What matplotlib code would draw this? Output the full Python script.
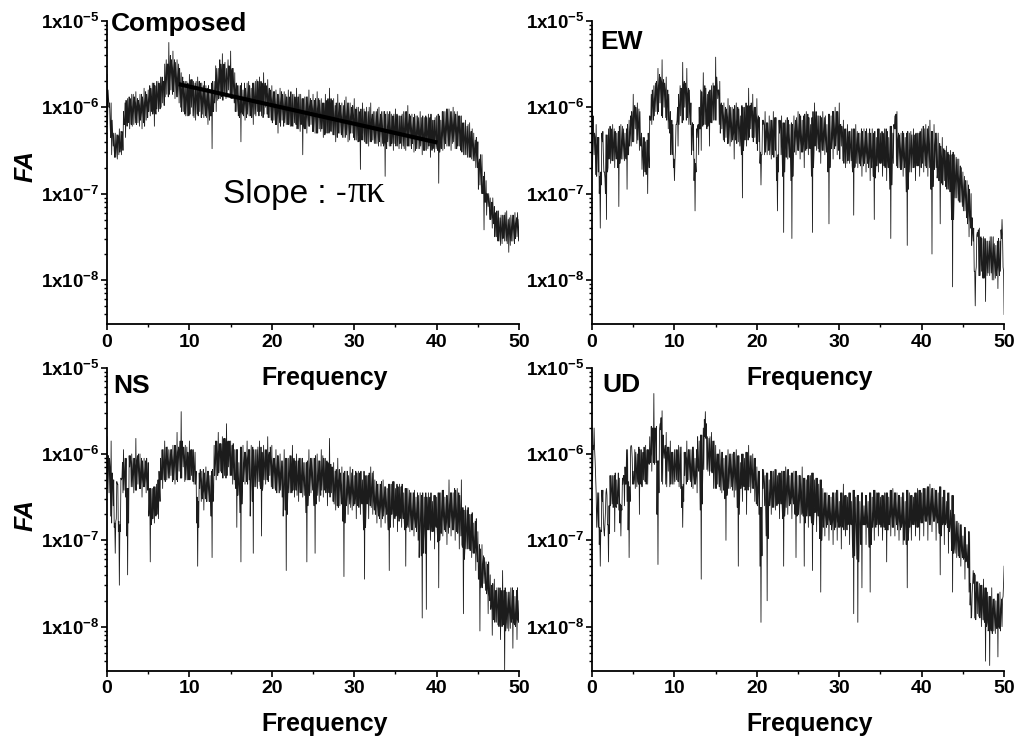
import numpy as np
import matplotlib
matplotlib.use("Agg")
import matplotlib.pyplot as plt
from matplotlib.ticker import FixedLocator, FixedFormatter, LogLocator, NullFormatter, MultipleLocator

plt.rcParams['font.family'] = ['Liberation Sans', 'DejaVu Sans']
plt.rcParams['mathtext.fontset'] = 'custom'
plt.rcParams['mathtext.rm'] = 'Liberation Sans'
plt.rcParams['mathtext.bf'] = 'Liberation Sans:bold'
plt.rcParams['mathtext.it'] = 'Liberation Sans:italic'

# ---- data: log10(FA) ----
# *_log : samples at 0, 0.25, 0.5, ... 50 Hz
# *_q1  : samples at 0.0625, 0.3125, ...
# *_mid : samples at 0.125, 0.375, ...
# *_q3  : samples at 0.1875, 0.4375, ...
composed_log = [
    -5.62, -6.00, -5.95, -6.45, -6.30, -6.60, -6.25, -6.55, -6.05, -6.35,
    -5.90, -6.25, -5.85, -6.20, -5.82, -6.18, -5.85, -6.25, -5.78, -6.15,
    -5.80, -6.10, -5.72, -6.22, -5.70, -6.05, -5.65, -5.95, -5.50, -5.85,
    -5.25, -5.80, -5.35, -5.90, -5.45, -5.95, -5.60, -6.05, -5.70, -6.10,
    -5.62, -6.00, -5.70, -6.15, -5.65, -6.05, -5.72, -6.12, -5.75, -6.20,
    -5.80, -6.48, -5.70, -6.05, -5.55, -5.90, -5.38, -5.85, -5.55, -5.80,
    -5.35, -5.90, -5.60, -6.05, -5.75, -6.40, -5.80, -6.15, -5.72, -6.10,
    -5.78, -6.20, -5.70, -6.05, -5.65, -6.10, -5.60, -6.00, -5.68, -6.12,
    -5.75, -6.15, -5.80, -6.30, -5.78, -6.15, -5.82, -6.20, -5.80, -6.22,
    -5.85, -6.18, -5.78, -6.25, -5.85, -6.55, -5.88, -6.30, -5.80, -6.20,
    -5.85, -6.30, -5.82, -6.25, -5.90, -6.35, -5.85, -6.30, -5.78, -6.28,
    -5.90, -6.40, -5.85, -6.30, -5.95, -6.35, -5.88, -6.40, -5.95, -6.30,
    -5.90, -6.38, -6.00, -6.72, -5.95, -6.40, -6.00, -6.45, -5.95, -6.38,
    -6.05, -6.42, -6.00, -6.45, -6.05, -6.80, -6.05, -6.45, -6.08, -6.50,
    -6.02, -6.45, -6.10, -6.48, -6.05, -6.50, -5.98, -6.45, -6.08, -6.52,
    -6.10, -6.48, -6.05, -6.55, -6.12, -6.50, -6.08, -6.58, -6.15, -6.52,
    -6.10, -6.88, -6.15, -6.50, -6.05, -6.45, -6.02, -6.50, -6.00, -6.48,
    -6.05, -6.45, -6.10, -6.55, -6.15, -6.58, -6.18, -6.60, -6.30, -6.70,
    -6.40, -6.90, -6.55, -7.42, -6.85, -7.15, -7.05, -7.40, -7.15, -7.50,
    -7.20, -7.60, -7.25, -7.55, -7.20, -7.68, -7.25, -7.55, -7.22, -7.50,
    -7.30,
]
composed_q1 = [
    -6.20, -5.95, -6.55, -6.30, -6.58, -6.32, -6.52, -6.28, -6.20, -5.92,
    -6.18, -5.90, -6.22, -5.88, -6.20, -5.92, -6.15, -5.88, -6.22, -5.85,
    -6.05, -5.78, -6.08, -5.75, -6.02, -5.72, -6.00, -5.70, -5.88, -5.50,
    -5.85, -5.45, -5.82, -5.48, -5.88, -5.55, -6.05, -5.70, -6.10, -5.72,
    -6.08, -5.68, -6.12, -5.70, -6.10, -5.72, -6.08, -5.70, -6.12, -5.75,
    -6.10, -5.70, -5.95, -5.55, -5.90, -5.50, -5.92, -5.48, -5.88, -5.52,
    -5.90, -5.55, -6.05, -5.75, -6.12, -5.72, -6.10, -5.78, -6.08, -5.75,
    -6.12, -5.72, -6.10, -5.70, -6.05, -5.72, -6.08, -5.75, -6.12, -5.80,
    -6.18, -5.82, -6.20, -5.85, -6.22, -5.85, -6.18, -5.88, -6.20, -5.82,
    -6.22, -5.88, -6.25, -5.85, -6.20, -5.90, -6.25, -5.88, -6.22, -5.92,
    -6.28, -5.90, -6.30, -5.92, -6.25, -5.95, -6.30, -5.90, -6.28, -5.92,
    -6.32, -5.95, -6.30, -5.98, -6.35, -5.92, -6.32, -5.95, -6.30, -5.98,
    -6.38, -6.00, -6.40, -6.02, -6.38, -6.05, -6.42, -6.00, -6.40, -6.05,
    -6.42, -6.02, -6.40, -6.05, -6.45, -6.08, -6.40, -6.05, -6.42, -6.08,
    -6.45, -6.10, -6.42, -6.08, -6.48, -6.05, -6.45, -6.10, -6.42, -6.08,
    -6.48, -6.12, -6.45, -6.10, -6.50, -6.12, -6.45, -6.08, -6.48, -6.12,
    -6.45, -6.10, -6.48, -6.05, -6.42, -6.02, -6.45, -6.05, -6.40, -6.08,
    -6.45, -6.10, -6.52, -6.18, -6.55, -6.20, -6.58, -6.25, -6.62, -6.35,
    -6.95, -6.55, -7.00, -6.75, -7.25, -7.00, -7.30, -7.05, -7.50, -7.20,
    -7.55, -7.25, -7.52, -7.22, -7.58, -7.28, -7.55, -7.25, -7.52, -7.22,
]
composed_mid = [
    -5.80, -6.20, -6.15, -6.50, -6.45, -6.35, -6.45, -6.30, -6.20, -6.10,
    -6.05, -6.00, -6.05, -5.95, -6.00, -5.98, -6.05, -6.00, -5.95, -5.95,
    -5.92, -5.90, -6.00, -5.95, -5.85, -5.85, -5.78, -5.70, -5.65, -5.50,
    -5.55, -5.55, -5.60, -5.70, -5.68, -5.75, -5.80, -5.85, -5.88, -5.85,
    -5.80, -5.85, -5.90, -5.88, -5.85, -5.88, -5.92, -5.95, -5.95, -6.00,
    -6.10, -6.05, -5.85, -5.75, -5.70, -5.60, -5.62, -5.70, -5.65, -5.55,
    -5.60, -5.75, -5.80, -5.90, -6.05, -6.05, -5.95, -5.92, -5.90, -5.95,
    -5.98, -5.92, -5.88, -5.85, -5.85, -5.82, -5.78, -5.85, -5.88, -5.92,
    -5.95, -5.98, -6.05, -6.00, -5.95, -6.00, -6.00, -6.02, -6.00, -6.05,
    -6.02, -5.98, -6.02, -6.05, -6.15, -6.20, -6.10, -6.05, -6.00, -6.02,
    -6.05, -6.08, -6.02, -6.10, -6.12, -6.10, -6.05, -6.00, -6.02, -6.10,
    -6.15, -6.12, -6.08, -6.12, -6.15, -6.12, -6.15, -6.18, -6.12, -6.10,
    -6.15, -6.20, -6.35, -6.30, -6.18, -6.20, -6.22, -6.20, -6.15, -6.22,
    -6.25, -6.22, -6.22, -6.25, -6.40, -6.40, -6.25, -6.28, -6.30, -6.25,
    -6.22, -6.28, -6.30, -6.25, -6.28, -6.22, -6.20, -6.25, -6.30, -6.32,
    -6.28, -6.30, -6.30, -6.35, -6.32, -6.30, -6.32, -6.38, -6.35, -6.30,
    -6.50, -6.52, -6.32, -6.28, -6.25, -6.22, -6.25, -6.25, -6.22, -6.25,
    -6.25, -6.28, -6.32, -6.35, -6.38, -6.40, -6.40, -6.45, -6.50, -6.55,
    -6.65, -6.72, -7.00, -7.10, -7.00, -7.10, -7.22, -7.28, -7.32, -7.35,
    -7.40, -7.42, -7.40, -7.38, -7.45, -7.45, -7.40, -7.38, -7.35, -7.40,
]
composed_q3 = [
    -5.90, -6.35, -6.30, -6.58, -6.32, -6.55, -6.28, -6.50, -5.95, -6.22,
    -5.88, -6.20, -5.85, -6.18, -5.90, -6.22, -5.85, -6.18, -5.82, -6.12,
    -5.75, -6.05, -5.72, -6.08, -5.70, -6.02, -5.65, -5.98, -5.45, -5.88,
    -5.40, -5.85, -5.45, -5.88, -5.50, -6.00, -5.65, -6.08, -5.70, -6.10,
    -5.68, -6.10, -5.72, -6.08, -5.70, -6.12, -5.75, -6.10, -5.78, -6.15,
    -5.72, -6.05, -5.52, -5.92, -5.45, -5.88, -5.50, -5.90, -5.45, -5.88,
    -5.55, -5.95, -5.72, -6.10, -5.75, -6.08, -5.72, -6.12, -5.70, -6.10,
    -5.72, -6.08, -5.68, -6.10, -5.70, -6.12, -5.72, -6.08, -5.78, -6.15,
    -5.82, -6.20, -5.85, -6.18, -5.82, -6.22, -5.85, -6.20, -5.88, -6.22,
    -5.85, -6.20, -5.88, -6.28, -5.90, -6.25, -5.88, -6.22, -5.90, -6.28,
    -5.92, -6.30, -5.90, -6.28, -5.95, -6.32, -5.92, -6.30, -5.90, -6.32,
    -5.98, -6.35, -5.95, -6.32, -5.98, -6.35, -5.95, -6.38, -6.00, -6.35,
    -6.02, -6.40, -6.05, -6.38, -6.02, -6.42, -6.05, -6.40, -6.08, -6.42,
    -6.05, -6.45, -6.08, -6.42, -6.05, -6.48, -6.08, -6.45, -6.10, -6.42,
    -6.08, -6.48, -6.10, -6.45, -6.05, -6.45, -6.08, -6.48, -6.12, -6.50,
    -6.10, -6.48, -6.12, -6.50, -6.10, -6.48, -6.12, -6.50, -6.15, -6.48,
    -6.08, -6.45, -6.05, -6.48, -6.02, -6.45, -6.05, -6.42, -6.05, -6.48,
    -6.10, -6.50, -6.18, -6.55, -6.22, -6.58, -6.28, -6.62, -6.38, -6.70,
    -6.60, -7.00, -6.80, -7.10, -7.02, -7.30, -7.10, -7.35, -7.22, -7.55,
    -7.28, -7.58, -7.25, -7.55, -7.30, -7.60, -7.25, -7.58, -7.28, -7.55,
]
ew_log = [
    -5.70, -6.55, -6.20, -6.75, -7.40, -6.40, -6.75, -7.30, -6.25, -6.65,
    -6.20, -6.70, -6.30, -7.15, -6.20, -6.60, -6.30, -6.95, -6.15, -6.45,
    -5.85, -6.25, -5.95, -6.50, -6.30, -6.80, -6.40, -7.00, -6.10, -6.20,
    -5.75, -6.05, -5.55, -5.95, -5.45, -6.00, -5.65, -6.25, -6.05, -6.55,
    -6.85, -6.20, -5.85, -6.10, -5.48, -6.00, -5.55, -6.20, -5.95, -6.50,
    -7.20, -6.35, -6.00, -6.50, -5.60, -6.20, -5.85, -6.45, -5.75, -6.15,
    -5.42, -5.90, -5.70, -6.25, -5.95, -6.35, -5.90, -6.45, -6.00, -6.60,
    -5.95, -6.40, -6.10, -7.05, -6.00, -6.45, -5.78, -6.25, -5.85, -6.35,
    -5.90, -6.40, -6.90, -6.20, -6.05, -6.55, -6.10, -6.60, -6.05, -6.50,
    -7.20, -6.30, -6.10, -7.45, -6.15, -6.60, -6.20, -7.52, -6.10, -6.55,
    -6.05, -6.60, -6.15, -6.70, -6.05, -6.55, -6.20, -7.45, -5.95, -6.50,
    -6.10, -6.65, -6.05, -6.55, -6.20, -7.35, -6.10, -6.60, -6.00, -6.55,
    -5.95, -6.45, -6.15, -6.70, -6.20, -6.65, -6.25, -7.25, -6.20, -6.70,
    -6.30, -6.80, -6.25, -6.75, -6.30, -6.85, -6.25, -7.30, -6.35, -6.75,
    -6.30, -6.80, -6.25, -6.85, -6.35, -7.52, -6.30, -6.10, -6.05, -6.70,
    -6.30, -6.80, -6.35, -7.60, -6.30, -6.75, -6.25, -6.85, -6.30, -6.80,
    -6.25, -6.75, -6.20, -6.80, -6.15, -7.70, -6.20, -6.70, -6.30, -7.35,
    -6.35, -6.85, -6.45, -6.95, -6.50, -8.08, -6.55, -7.05, -6.60, -7.10,
    -6.75, -7.20, -6.85, -7.50, -7.00, -7.55, -8.30, -7.45, -7.40, -7.90,
    -7.50, -8.25, -7.55, -7.95, -7.50, -8.00, -7.60, -8.10, -7.55, -7.30,
    -8.40,
]
ew_q1 = [
    -6.70, -6.30, -6.80, -6.35, -6.75, -6.28, -6.82, -6.32, -6.60, -6.25,
    -6.62, -6.28, -6.58, -6.22, -6.60, -6.25, -6.55, -6.20, -6.45, -6.05,
    -6.40, -6.00, -6.38, -6.05, -6.72, -6.35, -6.78, -6.30, -6.15, -5.80,
    -6.10, -5.70, -6.05, -5.65, -6.12, -5.72, -6.15, -5.85, -6.55, -6.20,
    -6.62, -6.15, -6.20, -5.78, -6.15, -5.72, -6.12, -5.80, -6.55, -6.20,
    -6.65, -6.22, -6.25, -5.82, -6.20, -5.78, -6.22, -5.80, -6.18, -5.75,
    -6.15, -5.80, -6.30, -5.98, -6.40, -6.02, -6.42, -6.00, -6.38, -5.98,
    -6.42, -6.02, -6.40, -6.00, -6.38, -5.98, -6.35, -5.95, -6.40, -6.00,
    -6.50, -6.12, -6.55, -6.15, -6.52, -6.18, -6.55, -6.15, -6.58, -6.12,
    -6.55, -6.15, -6.52, -6.18, -6.58, -6.15, -6.55, -6.20, -6.52, -6.12,
    -6.50, -6.10, -6.52, -6.08, -6.48, -6.12, -6.50, -6.05, -6.45, -6.10,
    -6.52, -6.12, -6.50, -6.10, -6.55, -6.08, -6.48, -6.05, -6.45, -6.05,
    -6.60, -6.22, -6.65, -6.25, -6.62, -6.28, -6.68, -6.25, -6.65, -6.30,
    -6.68, -6.28, -6.65, -6.25, -6.70, -6.30, -6.62, -6.28, -6.68, -6.25,
    -6.65, -6.30, -6.70, -6.28, -6.68, -6.22, -6.65, -6.25, -6.70, -6.32,
    -6.72, -6.30, -6.70, -6.28, -6.75, -6.32, -6.70, -6.30, -6.68, -6.28,
    -6.65, -6.25, -6.70, -6.22, -6.68, -6.28, -6.72, -6.30, -6.85, -6.45,
    -6.90, -6.50, -6.95, -6.55, -7.00, -6.52, -7.05, -6.60, -7.10, -6.70,
    -7.20, -6.85, -7.35, -6.95, -7.60, -7.40, -7.90, -7.50, -7.95, -7.52,
    -7.98, -7.55, -7.92, -7.50, -8.00, -7.58, -7.95, -7.52, -7.90, -7.50,
]
ew_mid = [
    -6.10, -6.35, -6.45, -7.00, -6.90, -6.55, -7.00, -6.75, -6.45, -6.40,
    -6.45, -6.50, -6.70, -6.65, -6.40, -6.45, -6.60, -6.55, -6.30, -6.15,
    -6.05, -6.10, -6.20, -6.40, -6.55, -6.60, -6.70, -6.55, -6.15, -5.95,
    -5.90, -5.80, -5.75, -5.70, -5.72, -5.80, -5.95, -6.15, -6.30, -6.70,
    -6.50, -6.00, -5.95, -5.80, -5.75, -5.78, -5.85, -6.05, -6.25, -6.85,
    -6.75, -6.20, -6.25, -6.05, -5.90, -6.05, -6.15, -6.10, -5.95, -5.80,
    -5.65, -5.80, -5.98, -6.10, -6.15, -6.12, -6.18, -6.22, -6.30, -6.28,
    -6.18, -6.25, -6.55, -6.50, -6.22, -6.10, -6.00, -6.05, -6.10, -6.12,
    -6.15, -6.65, -6.55, -6.20, -6.30, -6.32, -6.35, -6.30, -6.28, -6.85,
    -6.75, -6.20, -6.80, -6.75, -6.38, -6.40, -6.85, -6.80, -6.30, -6.30,
    -6.32, -6.38, -6.42, -6.38, -6.30, -6.38, -6.80, -6.70, -6.22, -6.30,
    -6.38, -6.35, -6.30, -6.38, -6.75, -6.70, -6.35, -6.30, -6.28, -6.25,
    -6.20, -6.30, -6.42, -6.45, -6.42, -6.45, -6.75, -6.70, -6.45, -6.50,
    -6.55, -6.52, -6.50, -6.52, -6.58, -6.55, -6.80, -6.82, -6.55, -6.52,
    -6.55, -6.52, -6.55, -6.60, -6.95, -6.90, -6.20, -6.08, -6.38, -6.50,
    -6.55, -6.58, -6.98, -6.95, -6.52, -6.50, -6.55, -6.58, -6.55, -6.52,
    -6.50, -6.48, -6.50, -6.48, -6.95, -6.92, -6.45, -6.82, -6.85, -6.60,
    -6.60, -6.65, -6.70, -6.72, -7.30, -7.30, -6.80, -6.85, -6.85, -6.92,
    -6.98, -7.02, -7.18, -7.25, -7.28, -7.90, -7.85, -7.42, -7.65, -7.88,
    -7.90, -7.75, -7.75, -7.72, -7.75, -7.80, -7.85, -7.82, -7.42, -7.85,
]
ew_q3 = [
    -6.25, -6.78, -6.35, -6.80, -6.30, -6.75, -6.32, -6.70, -6.22, -6.62,
    -6.25, -6.60, -6.28, -6.58, -6.22, -6.62, -6.25, -6.55, -6.10, -6.40,
    -5.98, -6.42, -6.02, -6.45, -6.35, -6.75, -6.38, -6.70, -5.85, -6.15,
    -5.72, -6.08, -5.62, -6.10, -5.68, -6.12, -5.80, -6.30, -6.15, -6.60,
    -6.20, -6.45, -5.75, -6.18, -5.70, -6.15, -5.78, -6.20, -6.18, -6.60,
    -6.25, -6.55, -5.80, -6.22, -5.75, -6.25, -5.82, -6.18, -5.72, -6.15,
    -5.75, -6.20, -5.95, -6.38, -6.00, -6.42, -5.98, -6.40, -6.02, -6.38,
    -6.00, -6.45, -5.98, -6.40, -5.95, -6.38, -5.98, -6.35, -6.00, -6.42,
    -6.10, -6.52, -6.15, -6.55, -6.18, -6.50, -6.15, -6.55, -6.12, -6.58,
    -6.15, -6.55, -6.18, -6.52, -6.12, -6.58, -6.18, -6.55, -6.15, -6.50,
    -6.08, -6.52, -6.10, -6.50, -6.08, -6.48, -6.12, -6.52, -6.05, -6.48,
    -6.10, -6.50, -6.12, -6.52, -6.08, -6.50, -6.05, -6.48, -6.05, -6.50,
    -6.20, -6.62, -6.25, -6.65, -6.28, -6.62, -6.25, -6.68, -6.28, -6.65,
    -6.25, -6.68, -6.28, -6.65, -6.25, -6.70, -6.30, -6.68, -6.25, -6.65,
    -6.28, -6.68, -6.25, -6.70, -6.22, -6.65, -6.25, -6.68, -6.30, -6.72,
    -6.28, -6.70, -6.30, -6.72, -6.28, -6.70, -6.32, -6.68, -6.30, -6.70,
    -6.22, -6.68, -6.25, -6.70, -6.28, -6.72, -6.30, -6.75, -6.42, -6.88,
    -6.48, -6.92, -6.52, -6.98, -6.55, -7.02, -6.58, -7.08, -6.68, -7.15,
    -6.80, -7.28, -6.90, -7.40, -7.45, -7.90, -7.48, -7.95, -7.50, -7.98,
    -7.52, -7.95, -7.55, -7.92, -7.50, -7.98, -7.55, -7.95, -7.52, -7.90,
]
ns_log = [
    -5.80, -6.45, -5.85, -6.60, -7.15, -6.35, -7.52, -6.30, -5.95, -6.50,
    -7.40, -6.15, -6.00, -6.45, -5.82, -6.35, -6.00, -6.50, -6.05, -6.45,
    -6.10, -7.25, -6.40, -6.80, -6.35, -6.75, -6.05, -6.40, -5.85, -6.30,
    -5.95, -6.25, -5.90, -6.35, -5.75, -6.20, -5.51, -6.15, -5.90, -6.30,
    -5.85, -6.25, -5.95, -6.35, -7.30, -6.40, -6.20, -6.65, -6.15, -6.55,
    -6.25, -7.20, -5.90, -6.30, -5.75, -6.20, -5.80, -6.25, -5.65, -6.15,
    -5.85, -6.35, -5.95, -6.85, -6.10, -7.25, -5.90, -6.35, -5.85, -6.30,
    -5.90, -7.15, -5.95, -6.40, -5.85, -6.95, -5.90, -6.35, -5.80, -6.25,
    -5.90, -6.40, -5.95, -6.45, -6.00, -6.50, -5.95, -7.35, -6.05, -6.45,
    -5.90, -6.50, -6.00, -6.55, -6.05, -6.50, -6.10, -7.25, -5.95, -6.45,
    -6.05, -7.15, -6.00, -6.55, -5.95, -6.50, -6.05, -6.60, -5.82, -6.45,
    -6.10, -6.65, -6.05, -6.60, -6.15, -7.42, -6.20, -6.70, -6.15, -6.65,
    -6.25, -6.75, -6.20, -6.70, -6.30, -7.45, -6.25, -6.75, -6.15, -6.70,
    -6.30, -6.80, -6.35, -6.85, -6.30, -6.80, -6.40, -7.35, -6.35, -6.85,
    -6.40, -6.90, -6.35, -6.85, -6.45, -7.30, -6.40, -6.90, -6.45, -6.95,
    -6.50, -7.00, -6.45, -7.90, -6.50, -7.80, -6.45, -7.00, -6.55, -7.10,
    -6.50, -7.55, -6.45, -6.95, -6.50, -7.05, -6.30, -6.95, -6.45, -7.00,
    -6.40, -7.10, -6.30, -7.85, -6.60, -7.10, -6.70, -7.20, -6.80, -7.35,
    -6.90, -8.05, -7.05, -7.50, -7.25, -7.85, -7.40, -8.10, -7.45, -7.95,
    -7.55, -8.15, -7.35, -8.50, -7.60, -8.05, -7.55, -8.25, -7.65, -8.15,
    -7.70,
]
ns_q1 = [
    -6.40, -6.05, -6.80, -6.30, -6.78, -6.35, -6.82, -6.28, -6.42, -6.05,
    -6.40, -6.02, -6.38, -6.05, -6.42, -6.00, -6.40, -6.08, -6.38, -6.05,
    -6.72, -6.40, -6.75, -6.38, -6.70, -6.20, -6.30, -5.95, -6.32, -5.92,
    -6.28, -5.95, -6.30, -5.90, -6.32, -5.95, -6.28, -5.92, -6.30, -5.98,
    -6.30, -5.95, -6.35, -6.20, -6.55, -6.18, -6.52, -6.22, -6.55, -6.20,
    -6.52, -6.18, -6.25, -5.85, -6.22, -5.88, -6.28, -5.82, -6.25, -5.85,
    -6.25, -5.88, -6.35, -5.95, -6.38, -5.92, -6.32, -5.98, -6.35, -5.95,
    -6.32, -5.95, -6.38, -5.92, -6.35, -5.98, -6.30, -5.95, -6.32, -5.92,
    -6.40, -6.05, -6.45, -6.02, -6.42, -6.08, -6.48, -6.05, -6.45, -6.02,
    -6.42, -6.08, -6.48, -6.05, -6.45, -6.10, -6.42, -6.08, -6.48, -6.05,
    -6.45, -6.02, -6.48, -6.08, -6.42, -6.05, -6.45, -6.10, -6.50, -6.15,
    -6.58, -6.18, -6.62, -6.22, -6.58, -6.20, -6.60, -6.25, -6.62, -6.18,
    -6.58, -6.22, -6.62, -6.20, -6.60, -6.25, -6.58, -6.22, -6.62, -6.20,
    -6.70, -6.35, -6.75, -6.32, -6.72, -6.38, -6.75, -6.35, -6.70, -6.32,
    -6.72, -6.38, -6.75, -6.35, -6.78, -6.40, -6.85, -6.45, -6.88, -6.42,
    -6.90, -6.48, -6.85, -6.45, -6.92, -6.50, -6.88, -6.45, -6.90, -6.48,
    -6.88, -6.45, -6.92, -6.42, -6.90, -6.48, -6.85, -6.45, -6.88, -6.42,
    -6.92, -6.48, -7.05, -6.65, -7.10, -6.62, -7.12, -6.68, -7.15, -6.75,
    -7.45, -7.10, -7.55, -7.20, -7.62, -7.25, -7.80, -7.50, -7.95, -7.55,
    -8.00, -7.58, -7.98, -7.55, -8.02, -7.60, -7.95, -7.58, -8.00, -7.55,
]
ns_mid = [
    -6.10, -6.15, -6.22, -6.85, -6.75, -6.90, -6.90, -6.10, -6.22, -6.95,
    -6.80, -6.08, -6.22, -6.15, -6.08, -6.18, -6.25, -6.28, -6.25, -6.28,
    -6.65, -6.82, -6.60, -6.58, -6.55, -6.40, -6.22, -6.12, -6.08, -6.12,
    -6.10, -6.08, -6.12, -6.05, -5.98, -5.85, -5.85, -6.02, -6.10, -6.08,
    -6.05, -6.10, -6.15, -6.80, -6.85, -6.30, -6.42, -6.40, -6.35, -6.40,
    -6.72, -6.55, -6.10, -6.02, -5.98, -6.00, -6.02, -5.95, -5.90, -6.00,
    -6.10, -6.15, -6.40, -6.48, -6.68, -6.58, -6.12, -6.08, -6.05, -6.72,
    -6.55, -6.18, -6.18, -6.12, -6.40, -6.42, -6.12, -6.08, -6.02, -6.08,
    -6.15, -6.18, -6.20, -6.22, -6.25, -6.72, -6.65, -6.70, -6.25, -6.18,
    -6.20, -6.28, -6.28, -6.30, -6.28, -6.30, -6.68, -6.60, -6.20, -6.25,
    -6.60, -6.58, -6.28, -6.25, -6.22, -6.28, -6.32, -6.22, -6.12, -6.28,
    -6.38, -6.32, -6.32, -6.38, -6.78, -6.80, -6.45, -6.42, -6.40, -6.45,
    -6.50, -6.48, -6.45, -6.50, -6.88, -6.85, -6.50, -6.45, -6.42, -6.55,
    -6.55, -6.58, -6.60, -6.58, -6.55, -6.60, -6.88, -6.85, -6.60, -6.62,
    -6.65, -6.62, -6.60, -6.65, -6.88, -6.85, -6.65, -6.70, -6.70, -6.75,
    -6.72, -7.20, -7.18, -7.15, -7.15, -6.72, -6.72, -6.78, -6.82, -6.80,
    -7.02, -7.00, -6.70, -6.72, -6.78, -6.68, -6.62, -6.70, -6.72, -6.70,
    -6.75, -6.70, -7.08, -7.22, -6.85, -6.90, -6.95, -7.00, -7.08, -7.12,
    -7.45, -7.55, -7.28, -7.38, -7.55, -7.62, -7.75, -7.78, -7.70, -7.75,
    -7.85, -7.75, -7.92, -8.05, -7.82, -7.80, -7.90, -7.95, -7.90, -7.92,
]
ns_q3 = [
    -6.02, -6.72, -6.30, -6.80, -6.32, -6.78, -6.28, -6.45, -6.05, -6.40,
    -6.02, -6.38, -6.05, -6.42, -6.02, -6.40, -6.05, -6.38, -6.08, -6.42,
    -6.40, -6.75, -6.38, -6.72, -6.30, -6.55, -5.95, -6.30, -5.92, -6.28,
    -5.95, -6.32, -5.90, -6.30, -5.92, -6.28, -5.95, -6.32, -5.92, -6.30,
    -5.95, -6.32, -5.98, -6.50, -6.22, -6.55, -6.18, -6.52, -6.20, -6.55,
    -6.20, -6.45, -5.85, -6.25, -5.88, -6.22, -5.82, -6.28, -5.85, -6.25,
    -5.90, -6.30, -5.95, -6.35, -5.92, -6.38, -5.98, -6.32, -5.95, -6.35,
    -5.92, -6.38, -5.95, -6.32, -5.92, -6.35, -5.95, -6.30, -5.98, -6.38,
    -6.05, -6.42, -6.02, -6.45, -6.08, -6.42, -6.05, -6.48, -6.02, -6.45,
    -6.05, -6.42, -6.08, -6.45, -6.05, -6.48, -6.10, -6.45, -6.05, -6.42,
    -6.05, -6.45, -6.08, -6.48, -6.02, -6.42, -6.08, -6.45, -6.12, -6.55,
    -6.20, -6.60, -6.18, -6.58, -6.22, -6.62, -6.20, -6.58, -6.22, -6.60,
    -6.20, -6.60, -6.22, -6.58, -6.20, -6.62, -6.25, -6.60, -6.22, -6.65,
    -6.32, -6.72, -6.35, -6.75, -6.38, -6.70, -6.35, -6.72, -6.32, -6.75,
    -6.35, -6.78, -6.38, -6.75, -6.40, -6.82, -6.42, -6.88, -6.45, -6.85,
    -6.45, -6.88, -6.48, -6.92, -6.45, -6.88, -6.50, -6.90, -6.48, -6.85,
    -6.45, -6.90, -6.42, -6.88, -6.48, -6.92, -6.45, -6.88, -6.40, -6.90,
    -6.45, -6.95, -6.62, -7.08, -6.65, -7.10, -6.70, -7.15, -6.78, -7.25,
    -7.05, -7.50, -7.18, -7.58, -7.28, -7.70, -7.52, -7.92, -7.58, -7.98,
    -7.55, -8.00, -7.58, -7.95, -7.60, -8.02, -7.55, -7.98, -7.58, -7.95,
]
ud_log = [
    -6.10, -5.70, -6.45, -6.85, -7.30, -6.55, -6.95, -6.40, -7.25, -6.60,
    -6.25, -6.90, -6.30, -6.65, -6.95, -6.35, -6.15, -6.55, -7.20, -5.90,
    -6.20, -6.40, -6.00, -6.70, -5.95, -6.30, -5.90, -6.35, -5.80, -6.20,
    -5.30, -6.10, -7.28, -5.65, -5.50, -6.05, -5.75, -6.20, -5.85, -6.35,
    -5.95, -6.30, -5.90, -6.40, -6.85, -6.25, -5.85, -6.30, -5.95, -6.40,
    -6.05, -6.45, -5.85, -7.45, -5.70, -5.51, -5.80, -6.25, -5.75, -6.40,
    -5.90, -6.35, -5.95, -6.45, -6.05, -7.00, -5.95, -6.40, -6.00, -6.50,
    -5.95, -7.30, -6.10, -6.55, -6.05, -6.70, -5.90, -6.45, -6.00, -6.55,
    -6.15, -6.70, -7.95, -6.40, -6.25, -7.70, -6.30, -6.70, -6.20, -6.65,
    -6.25, -6.75, -6.20, -7.30, -6.15, -6.70, -6.25, -6.75, -6.20, -7.20,
    -6.25, -6.80, -6.15, -7.30, -6.30, -6.85, -6.25, -7.35, -6.30, -6.90,
    -6.35, -7.60, -6.40, -6.95, -6.45, -7.00, -6.50, -7.05, -6.45, -7.00,
    -6.55, -7.10, -6.35, -6.95, -6.50, -7.05, -6.55, -7.85, -6.50, -7.95,
    -6.55, -7.55, -6.60, -7.05, -6.55, -7.60, -6.50, -7.00, -6.45, -6.95,
    -6.50, -7.00, -6.45, -7.25, -6.50, -6.95, -6.40, -6.95, -6.45, -7.00,
    -6.50, -7.05, -6.55, -7.55, -6.45, -7.00, -6.50, -6.95, -6.40, -7.00,
    -6.45, -6.95, -6.40, -7.00, -6.35, -6.90, -6.40, -7.00, -6.45, -7.40,
    -6.50, -7.05, -6.55, -7.15, -6.65, -7.60, -6.70, -7.20, -6.80, -7.30,
    -6.95, -7.45, -7.05, -7.60, -7.90, -7.35, -7.40, -7.85, -7.50, -8.00,
    -7.45, -8.40, -7.60, -8.45, -7.55, -8.05, -7.70, -8.35, -7.60, -8.00,
    -7.30,
]
ud_q1 = [
    -6.30, -5.95, -6.85, -6.45, -6.88, -6.42, -6.82, -6.48, -6.60, -6.25,
    -6.62, -6.22, -6.58, -6.28, -6.60, -6.25, -6.35, -5.95, -6.38, -5.92,
    -6.35, -5.98, -6.32, -5.95, -6.38, -5.92, -6.35, -5.95, -6.10, -5.70,
    -6.12, -5.68, -6.08, -5.72, -6.35, -5.95, -6.38, -5.92, -6.35, -5.98,
    -6.32, -5.95, -6.38, -5.92, -6.35, -5.98, -6.32, -5.95, -6.38, -5.92,
    -6.35, -5.80, -6.22, -5.78, -6.18, -5.82, -6.20, -5.80, -6.22, -5.85,
    -6.40, -6.00, -6.42, -5.98, -6.38, -6.02, -6.40, -6.00, -6.42, -5.98,
    -6.38, -6.02, -6.40, -6.00, -6.42, -5.98, -6.38, -6.02, -6.40, -6.05,
    -6.60, -6.20, -6.62, -6.18, -6.58, -6.22, -6.60, -6.20, -6.62, -6.18,
    -6.58, -6.22, -6.60, -6.20, -6.62, -6.18, -6.58, -6.22, -6.60, -6.20,
    -6.70, -6.25, -6.68, -6.28, -6.72, -6.25, -6.70, -6.22, -6.68, -6.28,
    -6.72, -6.30, -6.85, -6.45, -6.82, -6.48, -6.88, -6.45, -6.85, -6.42,
    -6.85, -6.45, -6.88, -6.48, -6.82, -6.45, -6.85, -6.42, -6.88, -6.48,
    -6.85, -6.45, -6.82, -6.48, -6.88, -6.45, -6.85, -6.42, -6.82, -6.45,
    -6.85, -6.48, -6.88, -6.45, -6.82, -6.42, -6.85, -6.45, -6.88, -6.48,
    -6.85, -6.45, -6.88, -6.42, -6.85, -6.48, -6.82, -6.45, -6.85, -6.42,
    -6.80, -6.40, -6.78, -6.38, -6.82, -6.40, -6.78, -6.42, -6.80, -6.38,
    -6.82, -6.42, -6.80, -6.45, -6.85, -6.48, -7.15, -6.78, -7.20, -6.82,
    -7.22, -6.85, -7.25, -6.90, -7.88, -7.50, -7.92, -7.48, -7.90, -7.52,
    -7.92, -7.55, -8.05, -7.65, -8.08, -7.68, -8.02, -7.62, -8.05, -7.68,
]
ud_mid = [
    -5.90, -6.08, -6.65, -7.05, -6.90, -6.75, -6.68, -6.82, -6.92, -6.42,
    -6.55, -6.60, -6.48, -6.80, -6.65, -6.25, -6.35, -6.88, -6.55, -6.05,
    -6.30, -6.20, -6.35, -6.32, -6.12, -6.10, -6.12, -6.08, -6.00, -5.70,
    -5.70, -6.70, -6.45, -5.58, -5.78, -5.90, -5.98, -6.02, -6.10, -6.15,
    -6.12, -6.10, -6.15, -6.62, -6.55, -6.05, -6.08, -6.12, -6.18, -6.25,
    -6.25, -6.15, -6.65, -6.58, -5.60, -5.65, -6.02, -6.00, -6.08, -6.15,
    -6.12, -6.15, -6.20, -6.25, -6.52, -6.48, -6.18, -6.20, -6.25, -6.22,
    -6.62, -6.70, -6.32, -6.30, -6.38, -6.30, -6.18, -6.22, -6.28, -6.35,
    -6.42, -7.30, -7.18, -6.32, -6.95, -6.98, -6.50, -6.45, -6.42, -6.45,
    -6.50, -6.48, -6.75, -6.72, -6.42, -6.45, -6.50, -6.48, -6.70, -6.72,
    -6.52, -6.48, -6.72, -6.80, -6.58, -6.55, -6.80, -6.82, -6.60, -6.62,
    -6.98, -7.00, -6.68, -6.70, -6.72, -6.75, -6.78, -6.75, -6.72, -6.78,
    -6.82, -6.72, -6.65, -6.72, -6.78, -6.80, -7.20, -7.18, -7.22, -7.25,
    -7.05, -6.82, -6.82, -6.80, -7.08, -7.05, -6.75, -6.72, -6.70, -6.72,
    -6.75, -6.72, -6.85, -6.88, -6.72, -6.68, -6.68, -6.70, -6.72, -6.78,
    -6.80, -7.00, -7.05, -7.00, -6.72, -6.75, -6.72, -6.68, -6.70, -6.72,
    -6.70, -6.68, -6.70, -6.68, -6.62, -6.65, -6.70, -6.72, -6.92, -6.95,
    -6.78, -6.82, -6.85, -6.90, -7.12, -7.15, -6.95, -7.00, -7.05, -7.12,
    -7.20, -7.25, -7.32, -7.75, -7.62, -7.38, -7.62, -7.68, -7.75, -7.72,
    -7.95, -8.00, -8.02, -8.00, -7.80, -7.88, -8.02, -8.00, -7.80, -7.65,
]
ud_q3 = [
    -5.95, -6.28, -6.45, -6.85, -6.42, -6.88, -6.45, -6.82, -6.25, -6.58,
    -6.25, -6.62, -6.22, -6.58, -6.28, -6.60, -5.95, -6.32, -5.92, -6.35,
    -5.95, -6.38, -5.92, -6.35, -5.98, -6.32, -5.95, -6.12, -5.68, -6.10,
    -5.70, -6.08, -5.72, -6.32, -5.95, -6.35, -5.92, -6.38, -5.98, -6.35,
    -5.95, -6.32, -5.92, -6.38, -5.98, -6.35, -5.95, -6.32, -5.92, -6.35,
    -5.95, -6.20, -5.78, -6.22, -5.80, -6.18, -5.82, -6.20, -5.85, -6.40,
    -6.00, -6.38, -5.98, -6.42, -6.02, -6.40, -6.00, -6.38, -5.98, -6.42,
    -6.02, -6.40, -6.00, -6.38, -5.98, -6.42, -6.02, -6.40, -6.05, -6.58,
    -6.20, -6.62, -6.18, -6.60, -6.22, -6.58, -6.20, -6.62, -6.18, -6.60,
    -6.22, -6.58, -6.20, -6.62, -6.18, -6.60, -6.22, -6.58, -6.20, -6.68,
    -6.25, -6.70, -6.28, -6.68, -6.25, -6.72, -6.22, -6.70, -6.28, -6.72,
    -6.30, -6.82, -6.45, -6.85, -6.48, -6.82, -6.45, -6.88, -6.42, -6.85,
    -6.45, -6.85, -6.48, -6.88, -6.45, -6.82, -6.42, -6.85, -6.48, -6.88,
    -6.45, -6.82, -6.48, -6.85, -6.45, -6.88, -6.42, -6.85, -6.45, -6.82,
    -6.48, -6.85, -6.45, -6.88, -6.42, -6.85, -6.45, -6.82, -6.48, -6.88,
    -6.45, -6.85, -6.42, -6.88, -6.48, -6.82, -6.45, -6.85, -6.42, -6.80,
    -6.40, -6.78, -6.38, -6.82, -6.40, -6.78, -6.42, -6.80, -6.38, -6.82,
    -6.42, -6.80, -6.45, -6.85, -6.48, -7.10, -6.78, -7.18, -6.82, -7.20,
    -6.85, -7.22, -6.90, -7.50, -7.50, -7.90, -7.48, -7.88, -7.52, -7.92,
    -7.55, -7.95, -7.65, -8.05, -7.68, -8.08, -7.62, -8.02, -7.68, -7.50,
]

panel_names = ["Composed", "EW", "NS", "UD"]
f_min, f_max = 0, 50

# slope (fit) line on the composed spectrum
slope_line_f = [8.7, 40.1]
slope_line_fa = [1.85e-6, 3.9e-7]
slope_text = "Slope : -"
slope_symbols = "πκ"

ytick_values = [1e-8, 1e-7, 1e-6, 1e-5]
ytick_labels = [r'$\mathbf{1x10^{-8}}$', r'$\mathbf{1x10^{-7}}$',
                r'$\mathbf{1x10^{-6}}$', r'$\mathbf{1x10^{-5}}$']
xtick_values = [0, 10, 20, 30, 40, 50]

series = [(composed_log, composed_q1, composed_mid, composed_q3),
          (ew_log, ew_q1, ew_mid, ew_q3),
          (ns_log, ns_q1, ns_mid, ns_q3),
          (ud_log, ud_q1, ud_mid, ud_q3)]


def merge(main, q1, mid, q3):
    # put the readings in frequency order
    out = np.empty(len(main) + len(q1) + len(mid) + len(q3))
    out[0::4] = main
    out[1::4] = q1
    out[2::4] = mid
    out[3::4] = q3
    return out


fig = plt.figure(figsize=(10.25, 7.41), dpi=100)
positions = [
    [0.1044, 0.5628, 0.402, 0.409],
    [0.5776, 0.5628, 0.402, 0.409],
    [0.1044, 0.0949, 0.402, 0.409],
    [0.5776, 0.0949, 0.402, 0.409],
]
label_pos = [(0.010, 0.966), (0.019, 0.906), (0.014, 0.916), (0.024, 0.919)]

for k, (pos, name, parts) in enumerate(zip(positions, panel_names, series)):
    ax = fig.add_axes(pos)
    ax.patch.set_visible(False)
    logv = merge(*parts)
    freq = np.linspace(f_min, f_max, len(logv))
    ax.plot(freq, 10.0 ** logv, color='#1c1c1c', lw=0.6)
    ax.set_yscale('log')
    ax.set_xlim(f_min, f_max)
    ax.set_ylim(10 ** -8.51, 1e-5)
    for s in ['top', 'right']:
        ax.spines[s].set_visible(False)
    for s in ['left', 'bottom']:
        ax.spines[s].set_linewidth(1.3)
    ax.yaxis.set_major_locator(FixedLocator(ytick_values))
    ax.yaxis.set_major_formatter(FixedFormatter(ytick_labels))
    ax.yaxis.set_minor_locator(LogLocator(base=10, subs=np.arange(2, 10), numticks=20))
    ax.yaxis.set_minor_formatter(NullFormatter())
    ax.xaxis.set_major_locator(FixedLocator(xtick_values))
    ax.xaxis.set_minor_locator(MultipleLocator(5))
    ax.tick_params(axis='both', which='major', direction='out', length=4, width=1.2)
    ax.tick_params(axis='both', which='minor', direction='out', length=2.5, width=1.0)
    ax.tick_params(axis='y', which='major', labelsize=13.5, pad=1.5)
    ax.tick_params(axis='x', which='major', labelsize=14, pad=3)
    for lab in ax.get_xticklabels():
        lab.set_fontweight('bold')
    ax.set_xlabel('Frequency', fontsize=18, fontweight='bold')
    ax.xaxis.label.set_verticalalignment('center')
    ax.xaxis.set_label_coords(0.527, -0.177)
    if k in (0, 2):
        ax.set_ylabel('FA', fontsize=18, fontweight='bold', fontstyle='italic')
        ax.yaxis.label.set_verticalalignment('center')
        ax.yaxis.set_label_coords(-0.197, 0.52 if k == 0 else 0.514)
    lx, ly = label_pos[k]
    ax.text(lx, ly, name, transform=ax.transAxes, fontsize=19, fontweight='bold',
            va='baseline', ha='left', clip_on=False)
    if k == 0:
        ax.plot(slope_line_f, slope_line_fa, color='black', lw=3, solid_capstyle='butt')
        t1 = ax.text(14.1, 10 ** -7.11, slope_text, fontsize=24, va='baseline', ha='left')
        ax.annotate(slope_symbols, xy=(1, 0), xycoords=t1, va='bottom', ha='left',
                    fontsize=27, family='Liberation Serif')

fig.savefig('out.png', dpi=100)
